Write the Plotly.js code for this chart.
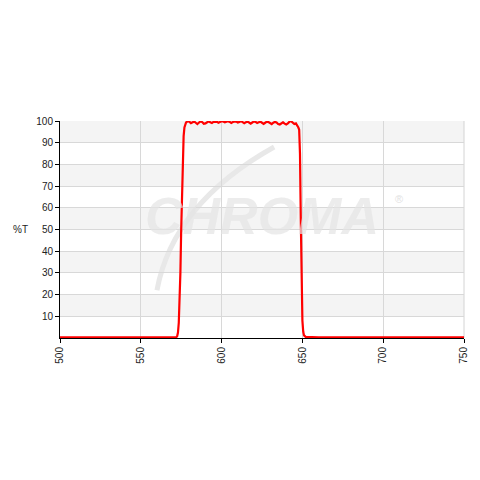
<!DOCTYPE html>
<html>
<head>
<meta charset="utf-8">
<script src="https://cdn.plot.ly/plotly-3.0.1.min.js"></script>
<style>html,body{margin:0;padding:0;background:#fff}#chart{width:480px;height:480px}</style>
</head>
<body>
<div id="chart"></div>
<script>
// Wavelength (nm) and transmission (%T)
const wavelength = [500, 520, 540, 560, 570, 572, 572.5, 573, 573.5, 574, 574.5, 575, 575.5, 576, 576.5, 577, 578,
  579, 580, 581, 582, 583, 584, 585, 586, 587, 588, 589, 590, 591, 592, 593, 594, 595, 596, 597, 598, 599, 600,
  601, 602, 603, 604, 605, 606, 607, 608, 609, 610, 611, 612, 613, 614, 615, 616, 617, 618, 619, 620,
  621, 622, 623, 624, 625, 626, 627, 628, 629, 630, 631, 632, 633, 634, 635, 636, 637, 638, 639, 640,
  641, 642, 643, 644, 645, 646, 647, 647.5, 648, 648.5, 649, 649.5, 650, 650.5, 651, 652, 660, 700, 750];
const transmission = [0.3, 0.3, 0.3, 0.3, 0.3, 0.4, 0.8, 2.5, 7, 15, 30, 50, 70, 85, 93, 97, 99.3,
  99.9, 99.7, 99.0, 99.4, 99.8, 99.2, 98.6, 99.3, 99.8, 99.5, 98.7, 98.9, 99.6, 99.9, 99.4, 99.1, 99.6, 99.8, 99.7, 99.2, 99.5, 99.9,
  99.8, 99.4, 99.7, 99.9, 99.6, 99.1, 99.5, 99.8, 99.7, 99.3, 99.6, 99.9, 99.5, 99.0, 99.4, 99.7, 99.3, 98.8, 99.3, 99.8,
  99.6, 99.1, 99.4, 99.7, 99.2, 98.7, 99.2, 99.7, 99.5, 98.9, 98.6, 99.2, 99.6, 99.3, 98.6, 98.4, 99.0, 99.4, 98.8, 98.4,
  98.9, 99.7, 99.9, 99.3, 98.6, 98.9, 97.8, 97.0, 96.0, 85, 55, 25, 8, 3, 1.2, 0.5, 0.3, 0.3, 0.3];
const xTicks = [500, 550, 600, 650, 700, 750];
const yTicks = [10, 20, 30, 40, 50, 60, 70, 80, 90, 100];
const bandStarts = [10, 30, 50, 70, 90];

const font = {family: 'Liberation Sans, Arial, sans-serif', size: 10, color: '#222'};

const shapes = bandStarts.map(b => ({
  type: 'rect', xref: 'paper', yref: 'y', x0: 0, x1: 1, y0: b, y1: b + 10,
  fillcolor: '#f4f4f4', line: {width: 0}, layer: 'below'
}));
// right border of plot area
shapes.push({type: 'line', xref: 'paper', yref: 'paper', x0: 1, x1: 1, y0: 0, y1: 1,
  line: {color: '#d4d4d4', width: 1}, layer: 'below'});
// watermark swoosh
shapes.push({type: 'path', xref: 'paper', yref: 'paper',
  path: 'M 0.24 0.22 Q 0.28 0.62 0.53 0.88', line: {color: '#e8e8e8', width: 5}, layer: 'below'});

const layout = {
  width: 480, height: 480,
  margin: {l: 60, r: 16, t: 121, b: 142},
  paper_bgcolor: '#ffffff', plot_bgcolor: '#ffffff',
  showlegend: false,
  font: font,
  xaxis: {
    range: [500, 750], tickvals: xTicks, ticktext: xTicks.map(String),
    tickangle: -90, ticks: 'outside', ticklen: 4, tickcolor: '#000',
    showline: true, linecolor: '#000', linewidth: 1,
    showgrid: true, gridcolor: '#d8d8d8', gridwidth: 1,
    zeroline: false, tickfont: font, fixedrange: true
  },
  yaxis: {
    range: [0, 100], tickvals: yTicks, ticktext: yTicks.map(String),
    ticks: 'outside', ticklen: 4, tickcolor: '#000',
    showline: true, linecolor: '#000', linewidth: 1,
    showgrid: true, gridcolor: '#d8d8d8', gridwidth: 1,
    zeroline: false, tickfont: font, fixedrange: true
  },
  shapes: shapes,
  annotations: [
    {text: '%T', xref: 'paper', yref: 'paper', x: -0.074, y: 0.5, xanchor: 'right', yanchor: 'middle',
     showarrow: false, font: font},
    {text: '<b><i>CHROMA</i></b>', xref: 'paper', yref: 'paper', x: 0.5, y: 0.56,
     xanchor: 'center', yanchor: 'middle', showarrow: false,
     font: {family: 'Liberation Sans, Arial, sans-serif', size: 52, color: 'rgba(228,228,228,0.7)'}},
    {text: '®', xref: 'paper', yref: 'paper', x: 0.84, y: 0.64, xanchor: 'center', yanchor: 'middle', showarrow: false,
     font: {family: 'Liberation Sans, Arial, sans-serif', size: 11, color: '#e2e2e2'}}
  ]
};

const trace = {
  x: wavelength, y: transmission, type: 'scatter', mode: 'lines',
  line: {color: '#ff0000', width: 2.2}, hoverinfo: 'skip'
};

Plotly.newPlot('chart', [trace], layout, {staticPlot: true, displayModeBar: false});
</script>
</body>
</html>
